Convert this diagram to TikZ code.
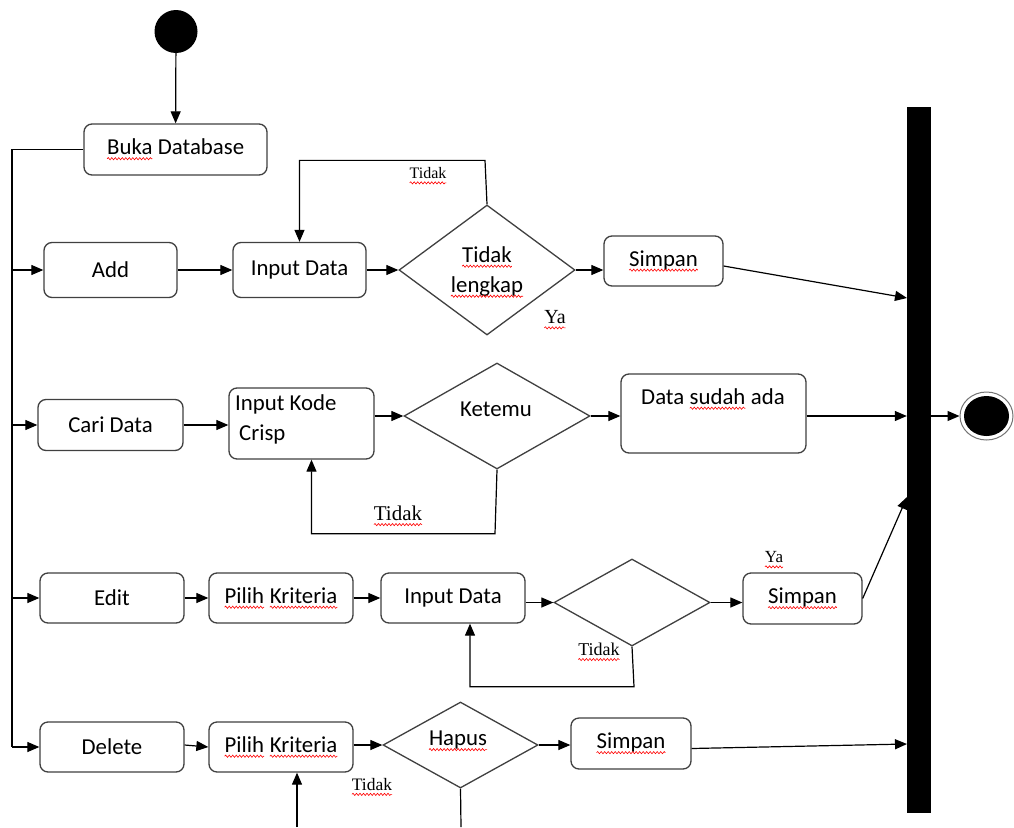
\documentclass[tikz,border=0pt]{standalone}
\usepackage{fontspec}
\setmainfont{Carlito}
\newfontfamily\lblfont{Liberation Serif}
\usetikzlibrary{arrows.meta,shapes.geometric,calc,decorations.pathmorphing}

\tikzset{
  act/.style={draw=black!75, line width=1.3pt, rounded corners=8pt, inner sep=0pt,
              font=\fontsize{22.8}{30}\selectfont, align=center},
  dec/.style={diamond, draw=black!75, line width=1.3pt, inner sep=0pt},
  txt/.style={inner sep=0pt, font=\fontsize{22.8}{30}\selectfont, align=center},
  lbl/.style={inner sep=0pt, font=\lblfont\fontsize{#1}{#1}\selectfont},
  wire/.style={line width=1.2pt},
  flow/.style={line width=1.2pt, -{Triangle[length=12pt,width=10pt]}},
  wordbox/.style={shape=rectangle, inner sep=0pt, outer sep=0pt, draw=none, fill=none,
                  rounded corners=0pt, minimum width=0pt, minimum height=0pt, anchor=center},
  wave/.style={draw=red, line width=0.6pt, rounded corners=0pt,
               decorate, decoration={snake, segment length=3.5pt, amplitude=1.1pt}}
}

% red wavy underline for flagged words
\newcommand\sq[1]{\tikz[baseline=(w.base)]{\node[wordbox] (w) {#1};
  \draw[wave] ([yshift=-4pt]w.base west) -- ([yshift=-4pt]w.base east);}}

\begin{document}
\begin{tikzpicture}[x=1pt,y=-1pt]
\useasboundingbox (0,0) rectangle (1014,827);
\fill[white] (0,0) rectangle (1014,827);

% start, join bar and final state
\node[circle, fill=black, minimum size=43pt, inner sep=0pt] (start) at (176,31.5) {};
\node[rectangle, fill=black, minimum width=24pt, minimum height=706pt, inner sep=0pt] (bar) at (919,460) {};
\node[ellipse, draw=black!55, line width=1pt, fill=white, minimum width=53pt, minimum height=48pt, inner sep=0pt] (fin) at (986.5,416) {};
\node[ellipse, fill=black, minimum width=45pt, minimum height=40pt, inner sep=0pt] (fincore) at (fin.center) {};

\node[act, minimum width=183pt, minimum height=51pt] (buka) at (175.5,149.5) {\sq{Buka} Database};

% row 1: Add
\node[act, minimum width=133pt, minimum height=55pt] (add) at (110.5,270) {Add};
\node[act, minimum width=133pt, minimum height=55pt] (in1) at (299.5,270) {Input Data};
\node[dec, minimum width=176pt, minimum height=130pt] (d1) at (487,270) {};
\node[txt] (d1t) at (487,272) {\sq{Tidak}\\\sq{lengkap}};
\node[act, minimum width=119pt, minimum height=50pt] (s1) at (663.5,261) {\sq{Simpan}};

% row 2: Cari Data
\node[act, minimum width=145pt, minimum height=51pt] (cari) at (110.5,425) {Cari Data};
\node[act, minimum width=145pt, minimum height=71pt] (ik) at (301.5,423.5) {};
\node[txt, anchor=north west, align=left] (ikt) at (235,394) {Input Kode\\\hspace*{4pt}Crisp};
\node[dec, minimum width=186pt, minimum height=106pt] (d2) at (497,416) {};
\node[txt] (d2t) at (496,409) {Ketemu};
\node[act, minimum width=185pt, minimum height=79pt] (ds) at (713.5,413.5) {};
\node[txt] (dst) at (713,399) {Data \sq{sudah} ada};

% row 3: Edit
\node[act, minimum width=144pt, minimum height=50pt] (edit) at (112,598) {Edit};
\node[act, minimum width=144pt, minimum height=50pt] (p3) at (281,598) {\sq{Pilih} \sq{Kriteria}};
\node[act, minimum width=144pt, minimum height=50pt] (in3) at (453,598) {Input Data};
\node[dec, minimum width=156pt, minimum height=87pt] (d3) at (632,602.5) {};
\node[act, minimum width=119pt, minimum height=51pt] (s3) at (802.5,598.5) {\sq{Simpan}};

% row 4: Delete
\node[act, minimum width=144pt, minimum height=50pt] (del) at (112,747) {Delete};
\node[act, minimum width=144pt, minimum height=50pt] (p4) at (281,747) {\sq{Pilih} \sq{Kriteria}};
\node[dec, minimum width=155pt, minimum height=86pt] (d4) at (460.5,745) {};
\node[txt] (d4t) at (458,741) {\sq{Hapus}};
\node[act, minimum width=120pt, minimum height=51pt] (s4) at (631,743.5) {\sq{Simpan}};

% guard labels
\node[lbl=16] (l1) at (428,176) {\sq{Tidak}};
\node[lbl=20] (l2) at (555,320) {\sq{Ya}};
\node[lbl=21] (l3) at (398,516) {\sq{Tidak}};
\node[lbl=17] (l4) at (774,560) {\sq{Ya}};
\node[lbl=18] (l5) at (599,652) {\sq{Tidak}};
\node[lbl=17.5] (l6) at (372,787) {\sq{Tidak}};

% fixed points
\coordinate (rb) at (12,747);
\coordinate (j1) at (907,298);
\coordinate (j3) at (907,497);
\coordinate (j4) at (907,744);
\coordinate (d4end) at (461,827);
\coordinate (p4src) at (297,827);

% left rail
\draw[flow] (start) -- (buka);
\draw[wire] (buka.west) -| (rb);
\draw[flow] (rb |- add.west) -- (add.west);
\draw[flow] (rb |- cari.west) -- (cari.west);
\draw[flow] (rb |- edit.west) -- (edit.west);
\draw[flow] (rb) -- (del.west);

% row 1
\draw[flow] (add) -- (in1);
\draw[flow] (in1) -- (d1);
\draw[flow] (d1.east) -- (d1.east -| s1.west);
\draw[flow] ($(s1.east)+(0,5)$) -- (j1);
\draw[flow] (d1.north) -- ++(-2,-44) -| (in1.north);

% row 2
\draw[flow] (cari.east) -- (cari.east -| ik.west);
\draw[flow] (ik.east |- d2.west) -- (d2.west);
\draw[flow] (d2.east) -- (d2.east -| ds.west);
\draw[flow] (ds.east |- d2.east) -- (bar.west |- d2.east);
\draw[flow] (bar.east |- fin.west) -- (fin.west);
\draw[flow] (d2.south) -- ++(-2,64) -| ($(ik.south)+(10,0)$);

% row 3
\draw[flow] (edit) -- (p3);
\draw[flow] (p3) -- (in3);
\draw[flow] (in3.east |- d3.west) -- (d3.west);
\draw[flow] (d3.east) -- (d3.east -| s3.west);
\draw[flow] (s3.east) -- (j3);
\draw[flow] (d3.south) -- ++(2,40) -| ($(in3.south)+(17,0)$);

% row 4
\draw[flow] (del.east |- d4.west) -- (del.east -| p4.west);
\draw[flow] (p4.east |- d4.west) -- (d4.west);
\draw[flow] (d4.east) -- (d4.east -| s4.west);
\draw[flow] ($(s4.east)+(0,5)$) -- (j4);
\draw[wire] (d4.south) -- (d4end);
\draw[flow] (p4src) -- (p4src |- p4.south);
\end{tikzpicture}
\end{document}
